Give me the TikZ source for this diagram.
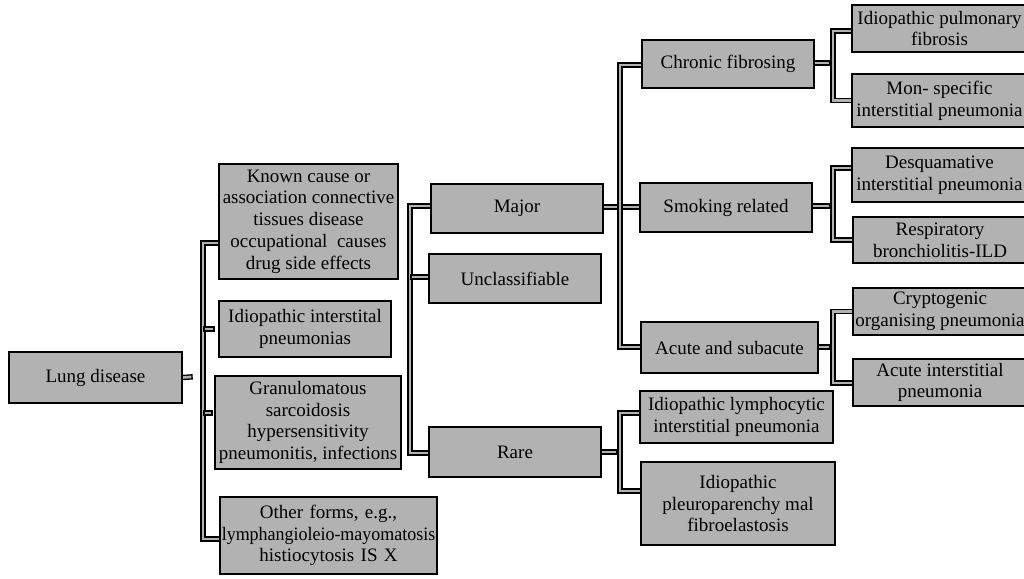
\documentclass[tikz,border=0pt]{standalone}
\usepackage{graphicx}
\usepackage{fontspec}
\setmainfont{Liberation Serif}
\usetikzlibrary{calc,backgrounds}
\definecolor{boxgray}{RGB}{178,178,178}
\tikzset{
  box/.style={draw=black, line width=1.6pt, fill=boxgray, inner sep=0pt, align=center,
    font=\fontsize{19}{21.7}\selectfont},
  conn/.style={draw=black, line width=1.4pt, double=boxgray, double distance=2.6pt, line join=miter},
  stub/.style={conn, line cap=rect},
}
\begin{document}
\begin{tikzpicture}[x=1pt, y=-1pt]
\useasboundingbox (0,0) rectangle (1024,578);
\clip (0,0) rectangle (1024,578);
% level 0
\node[box, minimum width=173pt, minimum height=51pt] (lung) at (95.5,377.5) {Lung disease};
% level 1
\node[box, minimum width=179pt, minimum height=115pt] (known) at (308.5,221.5)
  {Known cause or\\association connective\\tissues disease\\occupational\ \ causes\\drug side effects};
\node[box, minimum width=172pt, minimum height=56pt] (iip) at (305,329) {Idiopathic interstital\\pneumonias};
\node[box, minimum width=186pt, minimum height=93pt] (gran) at (308,422.5)
  {Granulomatous\\sarcoidosis\\hypersensitivity\\pneumonitis, infections};
\node[box, minimum width=217pt, text width=217pt, minimum height=77pt] (other) at (328.5,535.5)
  {Other forms, e.g.,\\\scalebox{0.945}[1]{lymphangioleio-mayomatosis}\\histiocytosis IS X};
% level 2
\node[box, minimum width=172pt, minimum height=49pt] (major) at (517,208.5) {Major};
\node[box, minimum width=172pt, minimum height=49pt] (uncl) at (515,278.5) {Unclassifiable};
\node[box, minimum width=172pt, minimum height=50pt] (rare) at (515,452) {Rare};
% level 3
\node[box, minimum width=172pt, minimum height=48pt] (chronic) at (728,64) {Chronic fibrosing};
\node[box, minimum width=172pt, minimum height=49pt] (smoking) at (726,207.5) {Smoking related};
\node[box, minimum width=177pt, minimum height=51pt] (acute) at (729.5,347.5) {Acute and subacute};
\node[box, minimum width=193pt, minimum height=52pt] (lip) at (736.5,417) {Idiopathic lymphocytic\\interstitial pneumonia};
\node[box, minimum width=194pt, minimum height=83pt] (ppfe) at (738,503.5) {Idiopathic\\pleuroparenchy mal\\fibroelastosis};
% level 4
\node[box, minimum width=175pt, minimum height=47pt] (ipf) at (939.5,28.5) {Idiopathic pulmonary\\fibrosis};
\node[box, minimum width=175pt, minimum height=53pt] (nsip) at (939.5,100.5) {Mon- specific\\interstitial pneumonia};
\node[box, minimum width=175pt, minimum height=54pt] (desq) at (939.5,175) {Desquamative\\interstitial pneumonia};
\node[box, minimum width=174pt, minimum height=46pt] (resp) at (940,240) {Respiratory\\bronchiolitis-ILD};
\node[box, minimum width=174pt, minimum height=47pt] (cop) at (940,311.5) {Cryptogenic\\organising pneumonia};
\node[box, minimum width=174pt, minimum height=47pt] (aip) at (940,382.5) {Acute interstitial\\pneumonia};

\begin{scope}[on background layer]
  % bus 1
  \coordinate (b1t) at (203,243);
  \coordinate (b1b) at (203,539);
  \coordinate (s1) at (190,377);
  \draw[stub] (lung.east) -- (s1);
  \draw[conn] (known.west |- b1t) -- (b1t) -- (b1b) -- (other.west |- b1b);
  \coordinate (s2a) at (206,329);
  \coordinate (s2b) at (212,329);
  \draw[stub] (s2a) -- (s2b);
  \coordinate (s3a) at (206,413);
  \coordinate (s3b) at (210,413);
  \draw[stub] (s3a) -- (s3b);
  % bus 2
  \coordinate (b2t) at (410,206);
  \coordinate (b2b) at (410,453);
  \draw[conn] (major.west |- b2t) -- (b2t) -- (b2b) -- (rare.west |- b2b);
  \coordinate (s4) at (413,277);
  \draw[stub] (s4) -- (s4 -| uncl.west);
  % major -> smoking, bus 3
  \coordinate (ms) at (620,207);
  \draw[conn] (major.east |- ms) -- (smoking.west |- ms);
  \coordinate (b3t) at (620,65);
  \coordinate (b3b) at (620,347);
  \draw[conn] (chronic.west |- b3t) -- (b3t) -- (b3b) -- (acute.west |- b3b);
  % rare -> bus 7
  \coordinate (s7) at (615,452);
  \draw[stub] (rare.east |- s7) -- (s7);
  \coordinate (b7t) at (620,413);
  \coordinate (b7b) at (620,491);
  \draw[conn] (lip.west |- b7t) -- (b7t) -- (b7b) -- (ppfe.west |- b7b);
  % chronic -> bus 4
  \coordinate (s5) at (828,63);
  \draw[stub] (chronic.east |- s5) -- (s5);
  \coordinate (b4t) at (833,31);
  \coordinate (b4b) at (833,100.5);
  \draw[conn] (ipf.west |- b4t) -- (b4t) -- (b4b) -- (nsip.west |- b4b);
  % smoking -> bus 5
  \coordinate (s6) at (828,206);
  \draw[stub] (smoking.east |- s6) -- (s6);
  \coordinate (b5t) at (833,168);
  \coordinate (b5b) at (833,240);
  \draw[conn] (desq.west |- b5t) -- (b5t) -- (b5b) -- (resp.west |- b5b);
  % acute -> bus 6
  \coordinate (s8) at (828,347);
  \draw[stub] (acute.east |- s8) -- (s8);
  \coordinate (b6t) at (833,311.5);
  \coordinate (b6b) at (833,383);
  \draw[conn] (cop.west |- b6t) -- (b6t) -- (b6b) -- (aip.west |- b6b);
\end{scope}
\end{tikzpicture}
\end{document}
